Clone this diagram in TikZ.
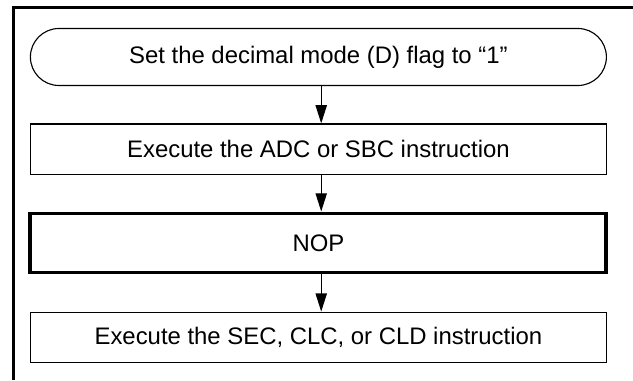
\documentclass[tikz,border=0pt]{standalone}
\usepackage{fontspec}
\setmainfont{Liberation Sans}
\usepackage{tikz}
\usetikzlibrary{arrows.meta,shapes.misc}
\tikzset{box/.style={draw,line width=0.8pt,minimum width=14.4cm,minimum height=1.26cm,inner sep=0pt,
  align=center,font=\fontsize{17}{20}\selectfont},
  terminal/.style={box,rounded rectangle,minimum height=1.425cm},
  thickbox/.style={box,line width=2.8pt,minimum height=1.475cm},
  arr/.style={-{Triangle[length=13pt,width=8pt]},line width=1pt}}

\begin{document}
\begin{tikzpicture}
\useasboundingbox (0,0) rectangle (15.825,9.5);
\draw[line width=2.4pt] (0.3375,0)--(0.3375,9.3125)--(15.825,9.3125);
\node[terminal] (setd) at (7.96,8.075) {Set the decimal mode (D) flag to “1”};
\node[box] (adc) at (7.96,5.77) {Execute the ADC or SBC instruction};
\node[thickbox] (nop) at (7.96,3.425) {NOP};
\node[box,minimum height=1.25cm] (sec) at (7.96,1.07) {Execute the SEC, CLC, or CLD instruction};
\draw[arr] ([xshift=2pt]setd.south)--([xshift=2pt]adc.north);
\draw[arr] ([xshift=2pt]adc.south)--([xshift=2pt]nop.north);
\draw[arr] ([xshift=2pt]nop.south)--([xshift=2pt]sec.north);
\end{tikzpicture}
\end{document}
